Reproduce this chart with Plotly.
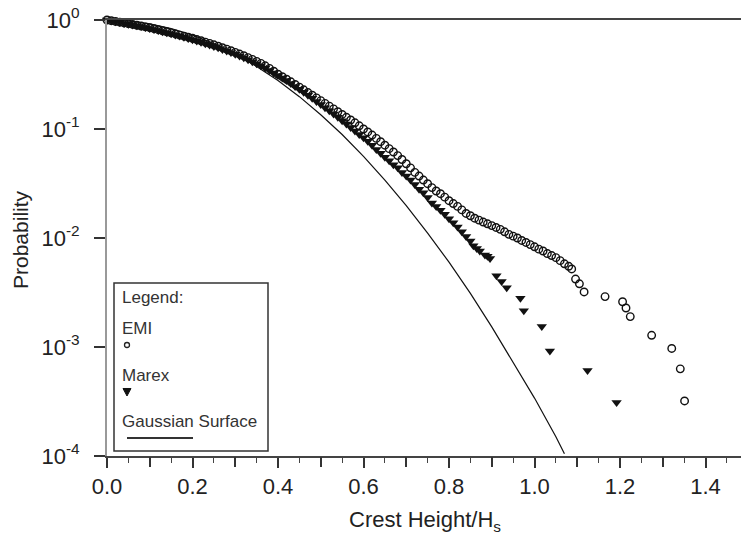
import plotly.graph_objects as go

# ---------------- data ----------------
emi_x = [0.00, 0.01, 0.02, 0.03, 0.04, 0.05, 0.06, 0.07, 0.08, 0.09,
         0.10, 0.11, 0.12, 0.13, 0.14, 0.15, 0.16, 0.17, 0.18, 0.19,
         0.20, 0.21, 0.22, 0.23, 0.24, 0.25, 0.26, 0.27, 0.28, 0.29,
         0.30, 0.31, 0.32, 0.33, 0.34, 0.35, 0.36, 0.37, 0.38, 0.39,
         0.40, 0.41, 0.42, 0.43, 0.44, 0.45, 0.46, 0.47, 0.48, 0.49,
         0.50, 0.51, 0.52, 0.53, 0.54, 0.55, 0.56, 0.57, 0.58, 0.59, 0.60, 0.61, 0.62, 0.63, 0.64,
         0.65, 0.66, 0.67, 0.68, 0.69, 0.70, 0.71, 0.72, 0.73, 0.74, 0.75, 0.76, 0.77, 0.78, 0.79,
         0.80, 0.81, 0.82, 0.83, 0.84, 0.85, 0.86, 0.87, 0.88, 0.89, 0.90, 0.91, 0.92, 0.93, 0.94,
         0.95, 0.96, 0.97, 0.98, 0.99, 1.00, 1.01, 1.02, 1.03, 1.04, 1.05, 1.06, 1.07, 1.08,
         1.087, 1.096, 1.105, 1.116, 1.165, 1.206, 1.214, 1.224, 1.274, 1.321, 1.341, 1.351]
emi_y = [1.0, 0.985, 0.97, 0.955, 0.94, 0.925, 0.91, 0.895, 0.88, 0.865,
         0.85, 0.832, 0.815, 0.797, 0.78, 0.762, 0.745, 0.727, 0.71, 0.695,
         0.68, 0.662, 0.645, 0.627, 0.61, 0.592, 0.575, 0.557, 0.54, 0.522,
         0.505, 0.487, 0.47, 0.452, 0.435, 0.417, 0.40, 0.38, 0.36, 0.339,
         0.318, 0.302, 0.286, 0.271, 0.256, 0.242, 0.229, 0.216, 0.204, 0.193,
         0.182, 0.172, 0.162, 0.153, 0.144, 0.136, 0.128, 0.121, 0.114, 0.107, 0.100, 0.094, 0.088,
         0.082, 0.0765, 0.071, 0.066, 0.0615, 0.057, 0.0525, 0.048, 0.044, 0.040, 0.037, 0.034,
         0.0315, 0.029, 0.027, 0.0255, 0.0237, 0.022, 0.0207, 0.0195, 0.0181, 0.0168, 0.0160,
         0.0152, 0.0146, 0.0140, 0.0135, 0.0130, 0.0125, 0.0120, 0.0114, 0.0108, 0.0104, 0.0100,
         0.0095, 0.0091, 0.0087, 0.0083, 0.0079, 0.0076, 0.0072, 0.0069, 0.0066, 0.0062, 0.0058,
         0.0055, 0.0052, 0.0042, 0.0038, 0.0032, 0.0029, 0.0026, 0.00228, 0.0019, 0.00128,
         0.00097, 0.00063, 0.00032]

marex_x = [0.00, 0.01, 0.02, 0.03, 0.04, 0.05, 0.06, 0.07, 0.08, 0.09,
           0.10, 0.11, 0.12, 0.13, 0.14, 0.15, 0.16, 0.17, 0.18, 0.19,
           0.20, 0.21, 0.22, 0.23, 0.24, 0.25, 0.26, 0.27, 0.28, 0.29,
           0.30, 0.31, 0.32, 0.33, 0.34, 0.35, 0.36, 0.37, 0.38, 0.39,
           0.40, 0.41, 0.42, 0.43, 0.44, 0.45, 0.46, 0.47, 0.48, 0.49,
           0.50, 0.51, 0.52, 0.53, 0.54, 0.55, 0.56, 0.57, 0.58, 0.59, 0.60, 0.61, 0.62, 0.63, 0.64,
           0.65, 0.66, 0.67, 0.68, 0.69, 0.70, 0.71, 0.72, 0.73, 0.74, 0.75, 0.76, 0.77, 0.78, 0.79,
           0.80, 0.81, 0.82, 0.83, 0.84, 0.85, 0.857, 0.865, 0.872, 0.884, 0.890, 0.896,
           0.911, 0.923, 0.935, 0.967, 0.975, 1.017, 1.036, 1.124, 1.192]
marex_y = [1.0, 0.982, 0.965, 0.948, 0.93, 0.915, 0.90, 0.885, 0.87, 0.852,
           0.835, 0.818, 0.80, 0.782, 0.765, 0.747, 0.73, 0.712, 0.695, 0.677,
           0.66, 0.642, 0.625, 0.607, 0.59, 0.572, 0.555, 0.537, 0.52, 0.502,
           0.485, 0.467, 0.45, 0.432, 0.415, 0.397, 0.38, 0.362, 0.345, 0.327,
           0.31, 0.294, 0.278, 0.262, 0.246, 0.231, 0.217, 0.204, 0.191, 0.179,
           0.168, 0.157, 0.147, 0.137, 0.128, 0.119, 0.111, 0.103, 0.096, 0.089, 0.083, 0.077, 0.071,
           0.065, 0.060, 0.055, 0.051, 0.047, 0.044, 0.040, 0.037, 0.034, 0.031, 0.028, 0.026,
           0.0235, 0.021, 0.0195, 0.018, 0.0165, 0.015, 0.0138, 0.0126, 0.0114, 0.0103, 0.0094,
           0.0085, 0.0080, 0.0076, 0.0070, 0.0068, 0.0065,
           0.0045, 0.0040, 0.0035, 0.0028, 0.00215, 0.00154, 0.00092, 0.00061, 0.00031]

gauss_x = [0.00, 0.05, 0.10, 0.15, 0.20, 0.25, 0.30, 0.35, 0.40, 0.45, 0.50, 0.55, 0.60, 0.65,
           0.70, 0.75, 0.80, 0.85, 0.90, 0.95, 1.00, 1.05, 1.07]
gauss_y = [1.0, 0.98, 0.923, 0.835, 0.726, 0.607, 0.487, 0.375, 0.278, 0.198, 0.135, 0.089,
           0.056, 0.034, 0.0198, 0.0111, 0.0060, 0.0031, 0.00153, 0.00072, 0.00034, 0.00015,
           0.000105]

x_labelvals = [0.0, 0.2, 0.4, 0.6, 0.8, 1.0, 1.2, 1.4]
x_labeltext = ["0.0", "0.2", "0.4", "0.6", "0.8", "1.0", "1.2", "1.4"]
x_oddvals = [0.1, 0.3, 0.5, 0.7, 0.9, 1.1, 1.3]
y_tickvals = [1, 0.1, 0.01, 0.001, 0.0001]
y_ticktext = ["10<sup>0</sup>", "10<sup>-1</sup>", "10<sup>-2</sup>", "10<sup>-3</sup>", "10<sup>-4</sup>"]

legend_title = "Legend:"
series_names = ["EMI", "Marex", "Gaussian Surface"]

# ---------------- layout geometry ----------------
W, H = 741, 536
L, R, T, B = 107, 0, 20, 80
PW, PH = W - L - R, H - T - B
FONT = "Liberation Sans, Arial, Helvetica, sans-serif"
XR = [0, 1.483]


def px(X):
    return (X - L) / PW


def py(Y):
    return (H - B - Y) / PH


fig = go.Figure()
fig.add_trace(go.Scatter(x=gauss_x, y=gauss_y, mode="lines", name=series_names[2],
                         line=dict(color="#111", width=1.2), cliponaxis=False))
fig.add_trace(go.Scatter(x=marex_x, y=marex_y, mode="markers", name=series_names[1],
                         marker=dict(symbol="triangle-down", size=9, color="#111"),
                         cliponaxis=False))
fig.add_trace(go.Scatter(x=emi_x, y=emi_y, mode="markers", name=series_names[0],
                         marker=dict(symbol="circle-open", size=7.5, color="#111",
                                     line=dict(width=1.4, color="#111")),
                         cliponaxis=False))
# invisible trace carrying the overlay axis used for the unlabeled 0.1 ticks
fig.add_trace(go.Scatter(x=[None], y=[None], xaxis="x2", yaxis="y", showlegend=False,
                         hoverinfo="skip"))

fig.update_layout(
    width=W, height=H, margin=dict(l=L, r=R, t=T, b=B, autoexpand=False),
    paper_bgcolor="white", plot_bgcolor="white", showlegend=False,
    font=dict(family=FONT, color="#222"),
    xaxis=dict(
        range=XR, tickmode="array", tickvals=x_labelvals, ticktext=x_labeltext,
        ticks="outside", ticklen=10, tickwidth=1.5, tickcolor="#333",
        minor=dict(dtick=0.05, tick0=0, ticks="outside", ticklen=5, tickwidth=1.3,
                   tickcolor="#444", showgrid=False),
        showline=True, linecolor="#444", linewidth=1.5, mirror=True,
        showgrid=False, zeroline=False, tickfont=dict(size=22, color="#222"),
        ticklabelstandoff=0, automargin=False,
    ),
    xaxis2=dict(
        range=XR, overlaying="x", anchor="y", side="bottom", tickmode="array",
        tickvals=x_oddvals, showticklabels=False, ticks="outside", ticklen=10,
        tickwidth=1.5, tickcolor="#333", showline=False, showgrid=False, zeroline=False,
        automargin=False,
    ),
    yaxis=dict(
        type="log", range=[-4, 0], tickmode="array", tickvals=y_tickvals, ticktext=y_ticktext,
        ticks="outside", ticklen=11, tickwidth=1.5, tickcolor="#333",
        showline=True, linecolor="#999", linewidth=2, showgrid=False, zeroline=False,
        tickfont=dict(size=22, color="#222"), ticklabelstandoff=10, automargin=False,
    ),
)

ann = []
ann.append(dict(text="Crest Height/H<sub>s</sub>", xref="paper", yref="paper", x=px(425),
                y=py(521), xanchor="center", yanchor="middle", showarrow=False,
                font=dict(size=22, color="#222", family=FONT)))
ann.append(dict(text="Probability", xref="paper", yref="paper", x=px(20), y=py(240),
                xanchor="center", yanchor="middle", textangle=-90, showarrow=False,
                font=dict(size=21, color="#222", family=FONT)))

# legend box drawn by hand (text above symbol)
leg_font = dict(size=17, color="#333", family=FONT)
for txt, yy in [(legend_title, 297), (series_names[0], 328), (series_names[1], 375),
                (series_names[2], 421)]:
    ann.append(dict(text=txt, xref="paper", yref="paper", x=px(120), y=py(yy),
                    xanchor="left", yanchor="middle", showarrow=False, font=leg_font))
fig.update_layout(annotations=ann)

shapes = []
shapes.append(dict(type="rect", xref="paper", yref="paper", x0=px(114), x1=px(268),
                   y0=py(451), y1=py(283), line=dict(color="#333", width=1.5),
                   fillcolor="white", layer="above"))
shapes.append(dict(type="circle", xref="paper", yref="paper", x0=px(124.5), x1=px(129.5),
                   y0=py(347.5), y1=py(342.5), line=dict(color="#222", width=1.3)))
shapes.append(dict(type="path", xref="paper", yref="paper",
                   path="M {:.5f},{:.5f} L {:.5f},{:.5f} L {:.5f},{:.5f} Z".format(
                       px(123), py(388.5), px(131), py(388.5), px(127), py(396)),
                   fillcolor="#111", line=dict(color="#111", width=1)))
shapes.append(dict(type="line", xref="paper", yref="paper", x0=px(127), x1=px(193),
                   y0=py(438), y1=py(438), line=dict(color="#333", width=2)))
fig.update_layout(shapes=shapes)

# remove the browser's default page margin so the figure sits at the window's top-left
fig.write_html("out.html", config={"displayModeBar": False},
               post_script="document.body.style.margin='0';document.body.style.padding='0';")
